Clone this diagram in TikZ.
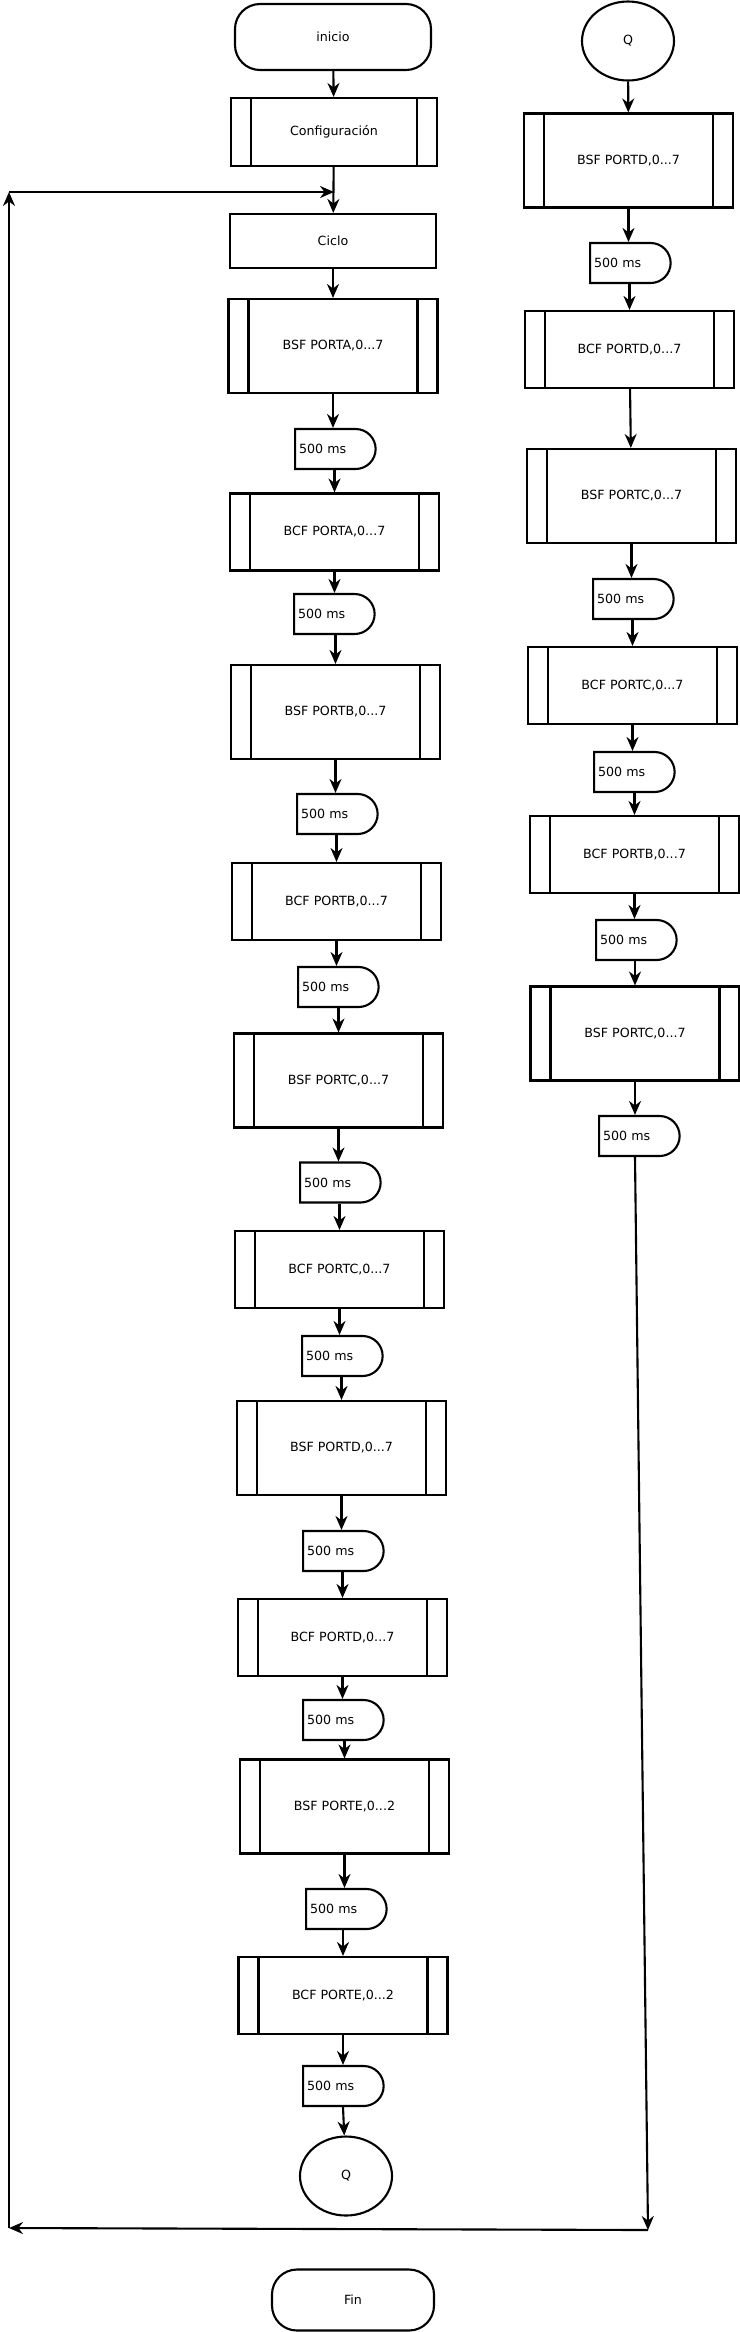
\documentclass[tikz,border=0pt]{standalone}
\usepackage{fontspec}
\setmainfont{DejaVu Sans}
\usepackage{tikz}
\usetikzlibrary{shapes.geometric, shapes.misc, arrows.meta}

\begin{document}
\begin{tikzpicture}[
        x=0.2mm, y=-0.2mm,
        every node/.style={font=\fontsize{7.2}{8.6}\selectfont},
        terminal/.style={rectangle, rounded corners=5mm, draw, line width=1.2pt, minimum width=39.2mm, minimum height=13.2mm},
        process/.style={rectangle, draw, line width=1.2pt, minimum width=41.2mm, minimum height=10.8mm},
        subroutine/.style={rectangle, draw, line width=1.2pt, minimum width=41.8mm, minimum height=18.8mm,
            path picture={\draw[line width=1.2pt] ([xshift=4mm]path picture bounding box.north west) -- ([xshift=4mm]path picture bounding box.south west);
                \draw[line width=1.2pt] ([xshift=-4mm]path picture bounding box.north east) -- ([xshift=-4mm]path picture bounding box.south east);}},
        shortsub/.style={subroutine, minimum height=15.4mm},
        delaybox/.style={rounded rectangle, rounded rectangle left arc=none, draw, line width=1.2pt, minimum height=8mm, text width=14.4mm, align=left, inner xsep=0.8mm, anchor=west},
        connector/.style={ellipse, draw, line width=1.2pt, minimum width=18.4mm, minimum height=15.8mm},
        flow/.style={-{Stealth[length=2.8mm, width=2.4mm]}, line width=1.2pt}
    ]
    \useasboundingbox (0,0) rectangle (740,2332);

    % Main program
    \node[terminal] (ini) at (333, 37) {inicio};
    \node[subroutine, minimum width=41.2mm, minimum height=13.6mm] (cfg) at (334, 132) {Configuración};
    \node[process] (ciclo) at (333, 241) {Ciclo};
    \node[subroutine] (bsfA) at (333, 346) {BSF PORTA,0...7};
    \node[delaybox] (dA1) at (294, 449) {500 ms};
    \node[shortsub] (bcfA) at (334.5, 532) {BCF PORTA,0...7};
    \node[delaybox] (dA2) at (293, 614) {500 ms};
    \node[subroutine] (bsfB) at (335.5, 712) {BSF PORTB,0...7};
    \node[delaybox] (dB1) at (296, 814) {500 ms};
    \node[shortsub] (bcfB) at (336.5, 901.5) {BCF PORTB,0...7};
    \node[delaybox] (dB2) at (297, 987) {500 ms};
    \node[subroutine] (bsfC) at (338.5, 1080.5) {BSF PORTC,0...7};
    \node[delaybox] (dC1) at (299, 1182.5) {500 ms};
    \node[shortsub] (bcfC) at (339.5, 1269.5) {BCF PORTC,0...7};
    \node[delaybox] (dC2) at (301, 1356) {500 ms};
    \node[subroutine] (bsfD) at (341.5, 1448) {BSF PORTD,0...7};
    \node[delaybox] (dD1) at (302, 1551) {500 ms};
    \node[shortsub] (bcfD) at (342.5, 1637.5) {BCF PORTD,0...7};
    \node[delaybox] (dD2) at (302, 1720) {500 ms};
    \node[subroutine] (bsfE) at (344.5, 1806.5) {BSF PORTE,0...2};
    \node[delaybox] (dE1) at (305, 1909) {500 ms};
    \node[shortsub] (bcfE) at (343, 1995.5) {BCF PORTE,0...2};
    \node[delaybox] (dE2) at (302, 2086) {500 ms};
    \node[connector] (qA) at (346, 2176) {Q};
    \node[terminal, minimum width=32.4mm, minimum height=12.2mm] (fin) at (353, 2300) {Fin};

    % Continuation after Q
    \node[connector] (qB) at (628, 41) {Q};
    \node[subroutine] (bsfD2) at (628.5, 160.5) {BSF PORTD,0...7};
    \node[delaybox] (dD3) at (589, 263) {500 ms};
    \node[shortsub] (bcfD2) at (629.5, 349.5) {BCF PORTD,0...7};
    \node[subroutine] (bsfC2) at (631.5, 496) {BSF PORTC,0...7};
    \node[delaybox] (dC3) at (592, 599) {500 ms};
    \node[shortsub] (bcfC2) at (632.5, 685.5) {BCF PORTC,0...7};
    \node[delaybox] (dC4) at (593, 772) {500 ms};
    \node[shortsub] (bcfB2) at (634.5, 854.5) {BCF PORTB,0...7};
    \node[delaybox] (dB3) at (595, 940) {500 ms};
    \node[subroutine] (bsfC3) at (635, 1033.5) {BSF PORTC,0...7};
    \node[delaybox] (dC5) at (598, 1136) {500 ms};

    % Loop corners
    \coordinate (junta) at (334, 192);
    \coordinate (esqB) at (9, 192);
    \coordinate (esqA) at (9, 2228);
    \coordinate (esqC) at (648, 2230);

    % Main flow
    \draw[flow] (ini) -- (cfg);
    \draw[flow] (cfg) -- (ciclo);
    \draw[flow] (ciclo) -- (bsfA);
    \draw[flow] (bsfA) -- (bsfA |- dA1.north);
    \draw[flow] (bcfA |- dA1.south) -- (bcfA);
    \draw[flow] (bcfA) -- (bcfA |- dA2.north);
    \draw[flow] (bsfB |- dA2.south) -- (bsfB);
    \draw[flow] (bsfB) -- (bsfB |- dB1.north);
    \draw[flow] (bcfB |- dB1.south) -- (bcfB);
    \draw[flow] (bcfB) -- (bcfB |- dB2.north);
    \draw[flow] (bsfC |- dB2.south) -- (bsfC);
    \draw[flow] (bsfC) -- (bsfC |- dC1.north);
    \draw[flow] (bcfC |- dC1.south) -- (bcfC);
    \draw[flow] (bcfC) -- (bcfC |- dC2.north);
    \draw[flow] (bsfD |- dC2.south) -- (bsfD);
    \draw[flow] (bsfD) -- (bsfD |- dD1.north);
    \draw[flow] (bcfD |- dD1.south) -- (bcfD);
    \draw[flow] (bcfD) -- (bcfD |- dD2.north);
    \draw[flow] (bsfE |- dD2.south) -- (bsfE);
    \draw[flow] (bsfE) -- (bsfE |- dE1.north);
    \draw[flow] (bcfE |- dE1.south) -- (bcfE);
    \draw[flow] (bcfE) -- (bcfE |- dE2.north);
    \draw[flow] (bcfE |- dE2.south) -- (qA);

    % Second column
    \draw[flow] (qB) -- (bsfD2);
    \draw[flow] (bsfD2) -- (bsfD2 |- dD3.north);
    \draw[flow] (bcfD2 |- dD3.south) -- (bcfD2);
    \draw[flow] (bcfD2) -- (bsfC2);
    \draw[flow] (bsfC2) -- (bsfC2 |- dC3.north);
    \draw[flow] (bcfC2 |- dC3.south) -- (bcfC2);
    \draw[flow] (bcfC2) -- (bcfC2 |- dC4.north);
    \draw[flow] (bcfB2 |- dC4.south) -- (bcfB2);
    \draw[flow] (bcfB2) -- (bcfB2 |- dB3.north);
    \draw[flow] (bsfC3 |- dB3.south) -- (bsfC3);
    \draw[flow] (bsfC3) -- (bsfC3 |- dC5.north);

    % Back to Ciclo
    \draw[flow] (bsfC3 |- dC5.south) -- (esqC);
    \draw[flow] (esqC) -- (esqA);
    \draw[flow] (esqA) -- (esqB);
    \draw[flow] (esqB) -- (junta);

\end{tikzpicture}
\end{document}
